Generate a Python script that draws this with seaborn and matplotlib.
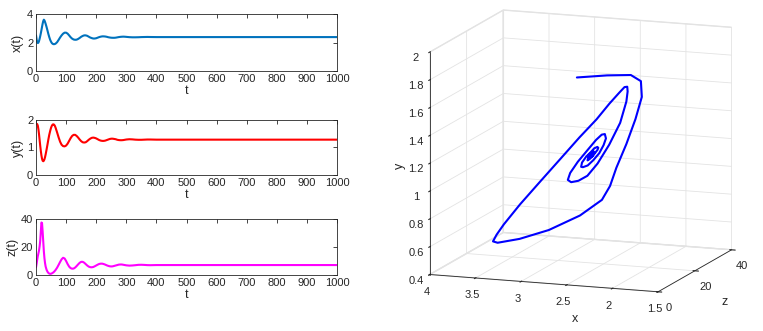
import numpy as np
import pandas as pd
import matplotlib
matplotlib.use('Agg')
import matplotlib.pyplot as plt
import seaborn as sns

# time samples and the three state variables
t = [0, 2, 4, 6, 8, 10, 12, 14, 16, 18, 20, 22, 24, 26, 28, 30, 32, 35, 38, 41,
     44, 47, 50, 53, 56, 59, 62, 65, 70, 75, 80, 85, 90, 95, 100, 105, 110, 115,
     120, 125, 130, 135, 140, 145, 150, 155, 160, 165, 170, 175, 180, 185, 190,
     195, 200, 205, 210, 215, 220, 225, 230, 235, 240, 245, 250, 255, 260, 265,
     270, 275, 280, 285, 290, 295, 300, 310, 320, 330, 340, 350, 360, 370, 380,
     400, 450, 500, 550, 600, 650, 700, 750, 800, 850, 900, 950, 1000]

x_vals = [2.5, 2.22, 2.02, 1.96, 1.99, 2.1, 2.26, 2.45, 2.65, 2.87, 3.1, 3.32, 3.5,
          3.6, 3.55, 3.44, 3.31, 3.09, 2.85, 2.6, 2.38, 2.19, 2.05, 1.95, 1.9, 1.88,
          1.89, 1.92, 2.02, 2.18, 2.35, 2.5, 2.62, 2.69, 2.69, 2.62, 2.5, 2.37, 2.27,
          2.21, 2.19, 2.2, 2.25, 2.32, 2.4, 2.46, 2.5, 2.5, 2.47, 2.41, 2.35, 2.31,
          2.28, 2.28, 2.3, 2.34, 2.38, 2.41, 2.43, 2.43, 2.42, 2.4, 2.37, 2.35,
          2.335, 2.33, 2.33, 2.34, 2.36, 2.38, 2.395, 2.405, 2.41, 2.405, 2.395,
          2.375, 2.365, 2.365, 2.37, 2.38, 2.385, 2.39, 2.385, 2.38, 2.38, 2.38,
          2.38, 2.38, 2.38, 2.38, 2.38, 2.38, 2.38, 2.38, 2.38, 2.38]

y_vals = [1.85, 1.86, 1.85, 1.79, 1.66, 1.48, 1.27, 1.06, 0.87, 0.71, 0.59, 0.52, 0.5,
          0.52, 0.57, 0.65, 0.75, 0.92, 1.1, 1.29, 1.46, 1.6, 1.72, 1.8, 1.84, 1.84,
          1.8, 1.72, 1.55, 1.37, 1.21, 1.1, 1.05, 1.04, 1.07, 1.14, 1.24, 1.34, 1.42,
          1.46, 1.46, 1.42, 1.36, 1.29, 1.23, 1.19, 1.18, 1.19, 1.23, 1.28, 1.32,
          1.35, 1.36, 1.35, 1.33, 1.3, 1.27, 1.25, 1.24, 1.24, 1.25, 1.27, 1.29,
          1.31, 1.32, 1.32, 1.31, 1.3, 1.28, 1.27, 1.265, 1.265, 1.27, 1.28, 1.29,
          1.3, 1.295, 1.285, 1.28, 1.28, 1.285, 1.29, 1.29, 1.285, 1.285, 1.285,
          1.285, 1.285, 1.285, 1.285, 1.285, 1.285, 1.285, 1.285, 1.285, 1.285]

z_vals = [5.5, 8, 11, 13.5, 15.5, 17.5, 20.5, 24.5, 31, 37.5, 37, 31, 24, 17, 12, 8.5, 6,
          3.8, 2.4, 1.5, 1.0, 0.8, 0.9, 1.2, 1.6, 2.1, 2.8, 3.6, 5.2, 7.2, 9.3, 11.2,
          12.3, 11.8, 10.0, 7.8, 6.0, 4.9, 4.5, 4.6, 5.3, 6.4, 7.6, 8.7, 9.4, 9.4,
          8.8, 7.8, 6.8, 6.0, 5.6, 5.5, 5.7, 6.2, 6.8, 7.4, 7.9, 8.1, 8.1, 7.8, 7.4,
          6.9, 6.5, 6.2, 6.1, 6.2, 6.5, 6.8, 7.1, 7.4, 7.5, 7.5, 7.3, 7.1, 6.9, 6.7,
          6.8, 7.0, 7.25, 7.3, 7.2, 7.05, 7.0, 7.1, 7.1, 7.1, 7.1, 7.1, 7.1, 7.1,
          7.1, 7.1, 7.1, 7.1, 7.1, 7.1]

df = pd.DataFrame({'t': t, 'x': x_vals, 'y': y_vals, 'z': z_vals})

sns.set_style("white")
plt.rcParams['font.family'] = ['Liberation Sans', 'DejaVu Sans']
plt.rcParams['grid.color'] = '#e3e3e3'
plt.rcParams['grid.linewidth'] = 0.6

fig = plt.figure(figsize=(7.63, 3.31), dpi=100)

dark = '#262626'
panels = [
    ('x', 'x(t)', '#0072BD', [0.0472, 0.7855, 0.3945, 0.1722], (0, 4), [0, 2, 4]),
    ('y', 'y(t)', '#FF0000', [0.0472, 0.4713, 0.3945, 0.1662], (0, 2), [0, 1, 2]),
    ('z', 'z(t)', '#FF00FF', [0.0472, 0.1692, 0.3945, 0.1692], (0, 40), [0, 20, 40]),
]
for col, lab, colr, pos, ylim, yt in panels:
    ax = fig.add_axes(pos)
    sns.lineplot(x='t', y=col, data=df, ax=ax, color=colr, linewidth=1.5, estimator=None)
    ax.set_xlim(0, 1000)
    ax.set_ylim(*ylim)
    ax.set_xticks(range(0, 1001, 100))
    ax.set_yticks(yt)
    ax.set_xlabel('t', fontsize=9, color=dark, labelpad=1)
    ax.set_ylabel(lab, fontsize=9, color=dark, labelpad=2)
    ax.tick_params(direction='in', length=3, width=0.6, labelsize=8, colors=dark,
                   top=True, right=True, pad=2)
    for s in ax.spines.values():
        s.set_color(dark)
        s.set_linewidth(0.6)

# 3D phase portrait
ax3 = fig.add_axes([0.495, 0.01, 0.52, 1.04], projection='3d')
ax3.set_proj_type('ortho')
ax3.plot(df['x'], df['z'], df['y'], color='#0000FF', linewidth=1.5)
ax3.set_xlim(4, 1.5)
ax3.set_ylim(0, 40)
ax3.set_zlim(0.4, 2)
ax3.set_xticks([4, 3.5, 3, 2.5, 2, 1.5])
ax3.set_xticklabels(['4', '3.5', '3', '2.5', '2', '1.5'])
ax3.set_yticks([0, 20, 40])
ax3.set_zticks([0.4, 0.6, 0.8, 1, 1.2, 1.4, 1.6, 1.8, 2])
ax3.set_zticklabels(['0.4', '0.6', '0.8', '1', '1.2', '1.4', '1.6', '1.8', '2'])
# MATLAB puts the x label further along the edge than mplot3d does
ax3.text2D(0.754, 0.035, 'x', transform=fig.transFigure, fontsize=9, color=dark,
           ha='center', va='center')
ax3.set_ylabel('z', fontsize=9, color=dark, labelpad=-4)
ax3.zaxis.set_rotate_label(False)
ax3.set_zlabel('y', fontsize=9, color=dark, labelpad=-8, rotation=90)
ax3.tick_params(labelsize=8, colors=dark, pad=-2)
for a in (ax3.xaxis, ax3.yaxis, ax3.zaxis):
    a.set_pane_color((1, 1, 1, 1))
    a.pane.set_edgecolor('#e3e3e3')
    a.line.set_color(dark)
    a.line.set_linewidth(0.6)
ax3.zaxis.set_ticks_position('lower')
ax3.zaxis.set_label_position('lower')
ax3.view_init(elev=12, azim=-70)
ax3.set_box_aspect((1.04, 0.92, 0.974), zoom=1.117)

fig.savefig('out.png', dpi=100)
